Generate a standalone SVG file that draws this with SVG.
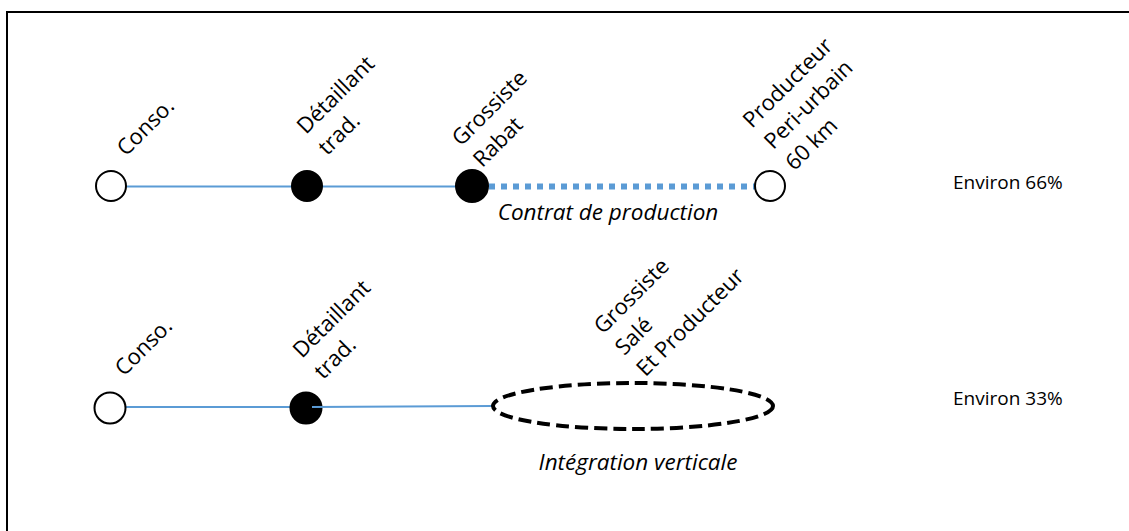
<svg xmlns="http://www.w3.org/2000/svg" width="1129" height="531" viewBox="0 0 1129 531">
<style>
text{font-family:"Open Sans","Noto Sans","Liberation Sans",sans-serif;font-size:19px;fill:#000}
.lbl{text-anchor:start;font-size:22px}
.it{font-style:italic;text-anchor:middle;font-size:22.5px}
.open{fill:#fff;stroke:#000;stroke-width:2}
.full{fill:#000;stroke:#000;stroke-width:2}
.link{stroke:#5B9BD5;stroke-width:2;fill:none}
.dot{stroke:#5B9BD5;stroke-width:6;stroke-dasharray:6 6;fill:none}
.ell{fill:none;stroke:#000;stroke-width:4;stroke-dasharray:13 6}
</style>
<rect x="7" y="12" width="1140" height="540" fill="#fff" stroke="#000" stroke-width="2"/>
<g id="connectors">
<line class="link" x1="126" y1="186.5" x2="292" y2="186.5"/>
<line class="link" x1="322" y1="186.5" x2="456" y2="186.5"/>
<line class="dot" x1="489" y1="186.5" x2="755" y2="186.5"/>
<line class="link" x1="126" y1="407" x2="290" y2="407"/>
</g>
<g id="conso1">
<circle class="open" cx="111" cy="186" r="15"/>
<text class="lbl" transform="translate(126,157) rotate(-45)">Conso.</text>
</g>
<g id="detaillant1">
<circle class="full" cx="307" cy="186" r="15"/>
<text class="lbl" transform="translate(306,135) rotate(-45)"><tspan x="0" y="0">Détaillant</tspan><tspan x="0" y="30">trad.</tspan></text>
</g>
<g id="grossiste1">
<circle class="full" cx="472" cy="186" r="16"/>
<text class="lbl" transform="translate(461,147) rotate(-45)"><tspan x="0" y="0">Grossiste</tspan><tspan x="0" y="30">Rabat</tspan></text>
</g>
<g id="producteur1">
<circle class="open" cx="770" cy="186" r="15"/>
<text class="lbl" transform="translate(752,129) rotate(-45)"><tspan x="0" y="0">Producteur</tspan><tspan x="0" y="30">Peri-urbain</tspan><tspan x="0" y="60">60 km</tspan></text>
</g>
<g id="contrat"><text class="it" x="608" y="220">Contrat de production</text></g>
<g id="share1"><text x="953" y="189">Environ 66%</text></g>
<g id="conso2">
<circle class="open" cx="110" cy="408" r="15.5"/>
<text class="lbl" transform="translate(124,377) rotate(-45)">Conso.</text>
</g>
<g id="detaillant2">
<circle class="full" cx="306" cy="408" r="15.5"/>
<line class="link" x1="312" y1="407" x2="492" y2="406"/>
<text class="lbl" transform="translate(302,359) rotate(-45)"><tspan x="0" y="0">Détaillant</tspan><tspan x="0" y="30">trad.</tspan></text>
</g>
<g id="grossiste2">
<ellipse class="ell" cx="633" cy="406" rx="140" ry="23"/>
<text class="lbl" transform="translate(603,335) rotate(-45)"><tspan x="0" y="0">Grossiste</tspan><tspan x="0" y="30">Salé</tspan><tspan x="0" y="60">Et Producteur</tspan></text>
</g>
<g id="integration"><text class="it" x="638" y="470">Intégration verticale</text></g>
<g id="share2"><text x="953" y="405">Environ 33%</text></g>
</svg>
